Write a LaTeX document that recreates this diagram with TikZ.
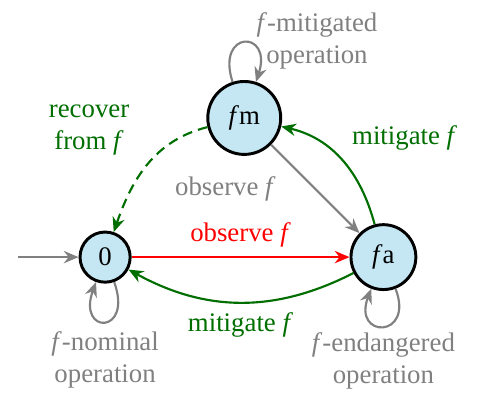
\documentclass[tikz,border=0pt]{standalone}
\usepackage{fontspec}
\setmainfont{Liberation Serif}
\usetikzlibrary{arrows.meta}
\definecolor{fillblue}{RGB}{197,231,243}
\definecolor{darkgreen}{RGB}{0,110,0}

\begin{document}
\begin{tikzpicture}[node distance={25.8mm}, thick, font=\rmfamily, >={Stealth[length=5.5pt,width=4.6pt,inset=1.8pt]}, main/.style={draw, circle, line width=1.1pt, fill=fillblue, minimum size=18.7pt, inner sep=0pt}]
            \useasboundingbox (-39.2pt,-51.8pt) rectangle (139.1pt,95.9pt);
            \node[main] (0) {0};
            \node[main, minimum size=27.2pt] (1) [above right of=0] {\textit{f}m};
            \node[main, minimum size=24.2pt] (2) [below right of=1] {\textit{f}a};
            \coordinate[left of=0, node distance=11.4mm] (3);

            \draw[->, gray] (3) -- (0);
            \draw[->, red] (0) -- node[above] {observe \textit{f}} (2);
            \draw[->, darkgreen] (2) to[bend left=28] node[below] {mitigate \textit{f}} (0);
            \draw[->, darkgreen] (2) to[out=105, in=-13] node[above right] {mitigate \textit{f}} (1);
            \draw[->, gray] (1) -- node[left=11pt] {observe \textit{f}} (2);
            \draw[->, darkgreen, dash pattern=on 3.7pt off 2.3pt] (1) to[out=194, in=71] node[above left, xshift=-3pt, align=center] {recover\\from \textit{f}} (0);
            \draw[->, gray] (0) to[out=-70, in=-110, distance=21pt] node[below, align=center] {\textit{f\/}-nominal\\operation} (0);
            \draw[->, gray] (1) to[out=108, in=72, distance=20.5pt] node[right, pos=0.65, inner sep=1pt, yshift=2pt, align=center] {\textit{f\/}-mitigated\\operation} (1);
            \draw[->, gray] (2) to[out=-69, in=-111, distance=20pt] node[below, inner sep=2pt, align=center] {\textit{f\/}-endangered\\operation} (2);
          \end{tikzpicture}
\end{document}
